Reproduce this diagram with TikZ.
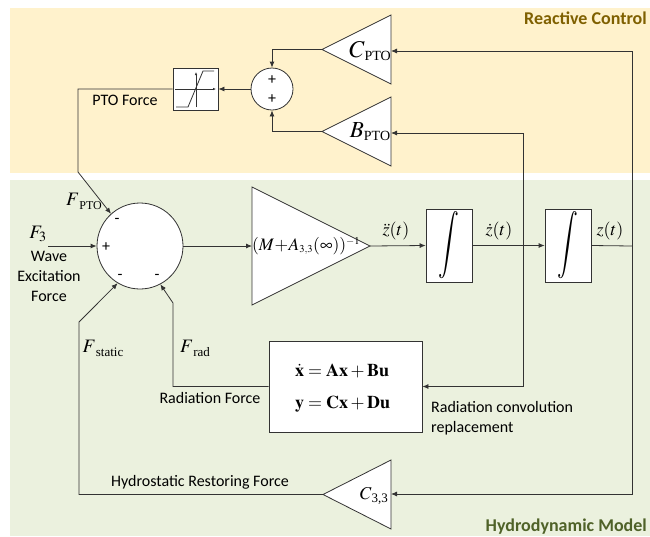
\documentclass[tikz,border=0pt]{standalone}
\usepackage{mathptmx}
\usepackage[no-math]{fontspec}
\setmainfont{Carlito}
\newfontfamily\tms{Liberation Serif}
\usetikzlibrary{arrows.meta}
\definecolor{cream}{HTML}{FFF2CC}
\definecolor{sage}{HTML}{EBF1DE}
\definecolor{goldtxt}{HTML}{7F6000}
\definecolor{greentxt}{HTML}{4F6228}
\definecolor{ln}{HTML}{333333}
\newcommand\ssub[3]{\raisebox{-#3}{\fontsize{#2}{#2}\selectfont\tms #1}}
\newcommand\fs[1]{\fontsize{#1}{#1}\selectfont}
\tikzset{
  wire/.style={draw=ln, line width=0.8pt},
  arr/.style={wire, -{Latex[length=6pt,width=5pt]}},
  blk/.style={draw=ln, line width=0.8pt, fill=white, inner sep=0pt},
  tri/.style={draw=ln, line width=0.8pt, fill=white},
  lbl/.style={font=\fontsize{16}{20}\selectfont, inner sep=0pt},
  sgn/.style={font=\fontsize{16}{16}\selectfont, inner sep=0pt},
  ttl/.style={font=\bfseries\fontsize{18}{20}\selectfont, inner sep=0pt, anchor=east},
  axis/.style={draw=ln, line width=0.6pt, -{Latex[length=3pt,width=2.5pt]}}
}
\begin{document}
\begin{tikzpicture}[x=1pt,y=-1pt]
\useasboundingbox (0,0) rectangle (650,536);
\fill[cream] (10,8) rectangle (650,173);
\fill[sage] (10,180) rectangle (650,536);
\node[ttl, text=goldtxt] (rc) at (647,18) {Reactive Control};
\node[ttl, text=greentxt] (hm) at (647,527) {Hydrodynamic Model};

% saturation block
\node[blk, minimum width=45pt, minimum height=42pt] (sat) at (195.5,89) {};
\draw[axis] (175,89) -- (216,89);
\draw[axis] (196,107) -- (196,72);
\draw[draw=ln, line width=0.8pt] (176,107) -- (188,107) -- (203,71) -- (214,71);
\node[lbl] (ptof) at (125,100) {PTO Force};

% summing junction (reactive control)
\node[blk, circle, minimum size=42pt] (s1) at (272,89) {};
\node[sgn] (s1a) at (272,80) {+};
\node[sgn] (s1b) at (272,99) {+};

% C_PTO and B_PTO gains
\draw[tri] (391,15) -- (391,84) -- (322,49.5) -- cycle;
\coordinate (cptoIn) at (391,51);
\coordinate (cptoOut) at (322,49.5);
\node[inner sep=0pt] (cptoL) at (370,51) {\fs{24}$C$\ssub{PTO}{14}{3pt}};
\draw[tri] (391,97) -- (391,166) -- (322,131.5) -- cycle;
\coordinate (bptoIn) at (391,133);
\coordinate (bptoOut) at (322,131.5);
\node[inner sep=0pt] (bptoL) at (370,132) {\fs{23}$B$\ssub{PTO}{14}{3pt}};

% main summing junction
\node[blk, circle, minimum size=86pt] (s2) at (140,246) {};
\node[sgn] (m1) at (117,221) {-};
\node[sgn] (p1) at (106,247) {+};
\node[sgn] (m2) at (120,277) {-};
\node[sgn] (m3) at (157,277) {-};

% gain block
\draw[tri] (252,187) -- (370,246) -- (252,305) -- cycle;
\coordinate (gIn) at (252,246);
\coordinate (gOut) at (370,246);
\node[inner sep=0pt] (gL) at (306,246) {\fs{17.5}$(M\!+\!A_{\scriptscriptstyle 3,3}(\infty))^{\scriptscriptstyle -1}$};

% integrators
\node[blk, minimum width=46pt, minimum height=73pt] (int1) at (449,245.5) {\scalebox{1.1}[1.6]{\fs{21}$\displaystyle\int$}};
\node[blk, minimum width=46pt, minimum height=73pt] (int2) at (568,245.5) {\scalebox{1.1}[1.6]{\fs{21}$\displaystyle\int$}};

% state space block
\node[blk, minimum width=153pt, minimum height=91pt] (ss) at (345.5,386.5) {};
\node[inner sep=0pt, anchor=base west] (ss1) at (295,376) {\fs{18}$\dot{\mathbf{x}}=\mathbf{Ax}+\mathbf{Bu}$};
\node[inner sep=0pt, anchor=base west] (ss2) at (295,408) {\fs{18}$\mathbf{y}=\mathbf{Cx}+\mathbf{Du}$};

% C33 gain
\draw[tri] (391,460) -- (391,529) -- (323,494.5) -- cycle;
\coordinate (c33In) at (391,494);
\coordinate (c33Out) at (323,494.5);
\node[inner sep=0pt] (c33L) at (374,496) {\fs{18}$C$\ssub{3,3}{13}{3pt}};

% junction / bend coordinates
\coordinate (f3in) at (48,246);
\coordinate (k1) at (78,172);
\coordinate (k2) at (173,303);
\coordinate (k3) at (79,322);
\coordinate (j1) at (523,246);
\coordinate (j2) at (632,246);

% connectors
\draw[arr] (cptoOut) -| (s1.north);
\draw[arr] (bptoOut) -| (s1.south);
\draw[arr] (s1.west) -- (sat.east);
\draw[arr] (sat.west) -| (k1) -- (s2.132);
\draw[arr] (f3in) -- (s2.west);
\draw[arr] (s2.east) -- (gIn);
\draw[arr] (gOut) -- (int1.west);
\draw[arr] (int1.east) -- (int2.west);
\draw[wire] (int2.east) -- (j2);
\draw[arr] (j2) |- (cptoIn);
\draw[arr] (j2) |- (c33In);
\draw[arr] (j1) |- (bptoIn);
\draw[arr] (j1) |- (ss.east);
\draw[arr] (ss.west) -| (k2) -- (s2.-62);
\draw[arr] (c33Out) -| (k3) -- (s2.-121);

% labels
\node[inner sep=0pt] (fpto) at (84,201) {\fs{19}$F$\ssub{PTO}{12}{4pt}};
\node[inner sep=0pt] (f3) at (38,234) {\fs{19}$F_3$};
\node[lbl, align=center] (wef) at (49,276) {Wave\\Excitation\\Force};
\node[inner sep=0pt] (fst) at (103,348) {\fs{19}$F$\ssub{static}{13}{4pt}};
\node[inner sep=0pt] (frad) at (195,348) {\fs{19}$F$\ssub{rad}{13}{4pt}};
\node[lbl] (radf) at (210,398) {Radiation Force};
\node[inner sep=0pt] (zdd) at (396,231) {\fs{18}$\ddot{z}(t)$};
\node[inner sep=0pt] (zd) at (499,231) {\fs{18}$\dot{z}(t)$};
\node[inner sep=0pt] (z) at (610,231) {\fs{18}$z(t)$};
\node[lbl, align=left, anchor=west] (rcr) at (431,418) {Radiation convolution\\replacement};
\node[lbl] (hrf) at (200,482) {Hydrostatic Restoring Force};
\end{tikzpicture}
\end{document}
